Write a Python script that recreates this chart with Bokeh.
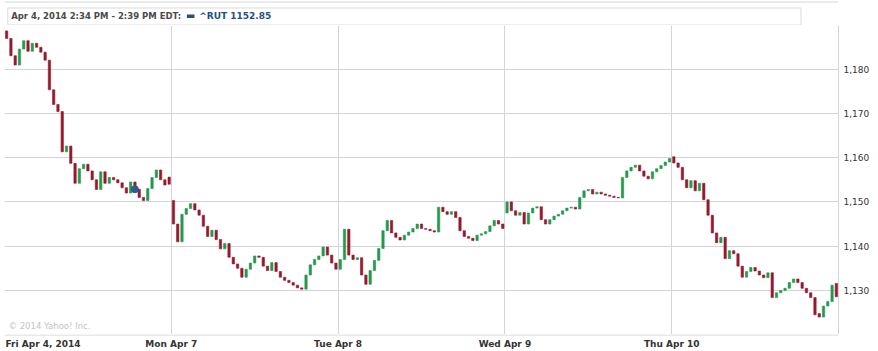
import numpy as np
from bokeh.plotting import figure
from bokeh.layouts import column
from bokeh.models import (FixedTicker, NumeralTickFormatter, Range1d, ColumnDataSource)
from bokeh.core.properties import value
from bokeh.embed import file_html
from bokeh.resources import INLINE

# ---------------- data (10-minute candles, 39 per session) ----------------
day_labels = ["Fri Apr 4, 2014", "Mon Apr 7", "Tue Apr 8", "Wed Apr 9", "Thu Apr 10"]
y_ticks = [1130, 1140, 1150, 1160, 1170, 1180]

fri_open = [1188.6, 1186.9, 1183.0, 1180.9, 1184.5, 1186.4, 1184.0, 1185.8, 1184.9, 1183.8,
            1182.0, 1175.3, 1172.0, 1170.4, 1161.3, 1162.6, 1158.7, 1154.2, 1157.5, 1158.5,
            1157.0, 1155.0, 1152.8, 1156.8, 1154.2, 1155.5, 1155.0, 1154.3, 1153.2, 1152.0,
            1154.5, 1152.85, 1151.0, 1150.3, 1153.0, 1155.5, 1157.2, 1155.0, 1155.6]
fri_close = [1186.9, 1183.0, 1180.9, 1184.5, 1186.4, 1184.0, 1185.8, 1184.9, 1183.8, 1182.0,
             1175.3, 1172.0, 1170.4, 1161.3, 1162.6, 1158.7, 1154.2, 1157.5, 1158.5, 1157.0,
             1155.0, 1152.8, 1156.8, 1154.2, 1155.5, 1155.0, 1154.3, 1153.2, 1152.0, 1154.5,
             1152.85, 1151.0, 1150.3, 1153.0, 1155.5, 1157.2, 1155.0, 1153.8, 1154.0]

mon_open = [1150.3, 1145.0, 1141.0, 1147.2, 1148.5, 1149.6, 1148.2, 1147.0, 1144.5, 1142.2,
            1143.6, 1141.5, 1139.4, 1140.6, 1137.5, 1136.0, 1135.0, 1133.0, 1134.8, 1136.2,
            1137.8, 1137.5, 1135.5, 1134.5, 1136.3, 1134.3, 1133.0, 1132.3, 1131.8, 1131.2,
            1130.6, 1130.3, 1133.5, 1135.8, 1137.0, 1137.8, 1139.8, 1138.0, 1136.2]
mon_close = [1145.0, 1141.0, 1147.2, 1148.5, 1149.6, 1148.2, 1147.0, 1144.5, 1142.2, 1143.6,
             1141.5, 1139.4, 1140.6, 1137.5, 1136.0, 1135.0, 1133.0, 1134.8, 1136.2, 1137.8,
             1137.5, 1135.5, 1134.5, 1136.3, 1134.3, 1133.0, 1132.3, 1131.8, 1131.2, 1130.6,
             1130.3, 1133.5, 1135.8, 1137.0, 1137.8, 1139.8, 1138.0, 1136.2, 1134.8]

tue_open = [1134.8, 1137.0, 1143.8, 1138.0, 1137.0, 1137.4, 1133.5, 1131.4, 1134.5, 1136.8,
            1139.5, 1143.5, 1145.8, 1143.0, 1142.0, 1141.4, 1142.5, 1143.2, 1144.0, 1145.0,
            1144.0, 1143.8, 1143.5, 1143.2, 1148.8, 1147.8, 1147.2, 1147.8, 1146.5, 1143.5,
            1142.2, 1141.8, 1141.3, 1142.5, 1142.8, 1143.3, 1144.6, 1145.8, 1145.0]
tue_close = [1137.0, 1143.8, 1138.0, 1137.0, 1137.4, 1133.5, 1131.4, 1134.5, 1136.8, 1139.5,
             1143.5, 1145.8, 1143.0, 1142.0, 1141.4, 1142.5, 1143.2, 1144.0, 1145.0, 1144.0,
             1143.8, 1143.5, 1143.2, 1148.8, 1147.8, 1147.2, 1147.8, 1146.5, 1143.5, 1142.2,
             1141.8, 1141.3, 1142.5, 1142.8, 1143.3, 1144.6, 1145.8, 1145.0, 1144.0]

wed_open = [1147.5, 1150.0, 1148.0, 1147.0, 1147.6, 1145.0, 1147.5, 1148.6, 1148.9, 1146.0,
            1145.0, 1146.0, 1146.8, 1147.2, 1148.0, 1148.6, 1148.8, 1148.4, 1151.0, 1152.5,
            1152.8, 1151.8, 1152.2, 1151.8, 1151.5, 1151.3, 1151.0, 1150.9, 1155.5, 1157.0,
            1157.8, 1158.3, 1157.0, 1155.8, 1155.2, 1156.8, 1157.5, 1158.2, 1159.0]
wed_close = [1150.0, 1148.0, 1147.0, 1147.6, 1145.0, 1147.5, 1148.6, 1148.9, 1146.0, 1145.0,
             1146.0, 1146.8, 1147.2, 1148.0, 1148.6, 1148.8, 1148.4, 1151.0, 1152.5, 1152.8,
             1151.8, 1152.2, 1151.8, 1151.5, 1151.3, 1151.0, 1150.9, 1155.5, 1157.0, 1157.8,
             1158.3, 1157.0, 1155.8, 1155.2, 1156.8, 1157.5, 1158.2, 1159.0, 1159.8]

thu_open = [1160.2, 1158.8, 1157.8, 1155.0, 1153.2, 1154.8, 1152.5, 1154.2, 1150.5, 1147.0,
            1143.0, 1140.8, 1142.0, 1137.2, 1139.0, 1138.3, 1135.5, 1133.0, 1134.3, 1135.2,
            1134.4, 1133.5, 1132.9, 1134.0, 1128.4, 1129.5, 1130.0, 1130.5, 1131.8, 1132.6,
            1131.8, 1130.5, 1129.5, 1128.4, 1124.8, 1124.0, 1126.5, 1127.5, 1131.6]
thu_close = [1158.8, 1157.8, 1155.0, 1153.2, 1154.8, 1152.5, 1154.2, 1150.5, 1147.0, 1143.0,
             1140.8, 1142.0, 1137.2, 1139.0, 1138.3, 1135.5, 1133.0, 1134.3, 1135.2, 1134.4,
             1133.5, 1132.9, 1134.0, 1128.4, 1129.5, 1130.0, 1130.5, 1131.8, 1132.6, 1131.8,
             1130.5, 1129.5, 1128.4, 1124.5, 1124.0, 1126.5, 1127.5, 1131.2, 1128.6]

highlight_index = 30          # Friday 2:30 PM candle (index within the day)
highlight_value = 1152.85
header_text = "Apr 4, 2014 2:34 PM - 2:39 PM EDT:"
header_series = "^RUT 1152.85"
copyright_text = "\u00a9 2014 Yahoo! Inc."

# ---------------- build table ----------------
per_day = len(fri_open)
opens = np.array(fri_open + mon_open + tue_open + wed_open + thu_open)
closes = np.array(fri_close + mon_close + tue_close + wed_close + thu_close)
n = len(opens)
xs = np.arange(n) + 0.5
up = closes >= opens
green = "#25994c"
red = "#951a2e"
src = ColumnDataSource(dict(
    x=xs,
    top=np.maximum(opens, closes),
    bottom=np.minimum(opens, closes),
    color=[green if u else red for u in up],
))

n_days = len(day_labels)
day_starts = [d * per_day for d in range(n_days)]
grid_col = "#d4d4d4"
FONT = value("DejaVu Sans")

x_range = Range1d(0, n)

# ---------------- header strip ----------------
W = 878
hdr = figure(width=W, height=25, output_backend="svg", toolbar_location=None,
             x_range=Range1d(0, W), y_range=Range1d(25, 0),
             min_border=0, x_axis_location=None, y_axis_location=None)
hdr.outline_line_color = None
hdr.grid.visible = False
hdr.segment(x0=[0], y0=[1.5], x1=[W], y1=[1.5], line_color="#d6d6d6", line_width=1)
hdr.quad(left=[3.5], right=[838.5], top=[7.5], bottom=[24.5], fill_color=None,
         line_color="#dcdcdc", line_width=1)
hdr.text(x=[7], y=[15.5], text=[header_text], text_font=FONT, text_font_style="bold",
         text_font_size="8.5px", text_color="#4a4a4a", text_baseline="middle",
         text_align="left")
hdr.quad(left=[192], right=[200], top=[14], bottom=[17.5], fill_color="#2a4f7c",
         line_color=None)
hdr.text(x=[205], y=[15.5], text=[header_series], text_font=FONT, text_font_style="bold",
         text_font_size="9px", text_color="#1f4f82", text_baseline="middle",
         text_align="left")

# ---------------- main chart ----------------
p = figure(width=W, height=309, output_backend="svg", toolbar_location=None,
           x_range=x_range, y_range=Range1d(1120.07, 1189.82),
           y_axis_location="right", x_axis_location=None,
           min_border_left=4, min_border_right=40, min_border_top=0, min_border_bottom=0)
p.outline_line_color = None
p.background_fill_color = "white"
p.border_fill_color = "white"

p.xgrid.ticker = FixedTicker(ticks=day_starts[1:])
p.xgrid.grid_line_color = grid_col

p.yaxis.ticker = FixedTicker(ticks=y_ticks)
p.yaxis.formatter = NumeralTickFormatter(format="0,0")
p.yaxis.major_tick_line_color = None
p.yaxis.minor_tick_line_color = None
p.yaxis.major_tick_out = 0
p.yaxis.axis_line_color = grid_col
p.yaxis.major_label_standoff = 5
p.yaxis.major_label_text_font = "DejaVu Sans"
p.yaxis.major_label_text_font_size = "9px"
p.yaxis.major_label_text_color = "#333333"
p.ygrid.ticker = FixedTicker(ticks=y_ticks)
p.ygrid.grid_line_color = grid_col

p.vbar(x="x", width=0.55, top="top", bottom="bottom", fill_color="color",
       line_color="color", line_width=0.6, source=src)

p.scatter(x=[highlight_index + 0.5], y=[highlight_value], size=7, marker="circle",
          fill_color="#2d5b8e", line_color="#2d5b8e")

p.text(x=[0], y=[1121.9], text=[copyright_text], x_offset=4, text_font=FONT,
       text_font_size="8.5px", text_color="#c4c4c4", text_baseline="middle",
       text_align="left")

# ---------------- footer with day labels ----------------
ftr = figure(width=W, height=17, output_backend="svg", toolbar_location=None,
             x_range=x_range, y_range=Range1d(0, 17),
             min_border_left=4, min_border_right=40, min_border_top=0, min_border_bottom=0,
             x_axis_location=None, y_axis_location=None)
ftr.outline_line_color = None
ftr.grid.visible = False
ftr.segment(x0=[0], y0=[16.5], x1=[n], y1=[16.5], line_color=grid_col, line_width=1)
ftr.text(x=day_starts[:1], y=[8], text=day_labels[:1], x_offset=1, text_font=FONT,
         text_font_style="bold", text_font_size="9px", text_color="#333333",
         text_baseline="middle", text_align="left")
ftr.text(x=day_starts[1:], y=[8] * (n_days - 1), text=day_labels[1:], text_font=FONT,
         text_font_style="bold", text_font_size="9px", text_color="#333333",
         text_baseline="middle", text_align="center")

layout = column(hdr, p, ftr, spacing=0)
open("out.html", "w").write(file_html(layout, INLINE))
